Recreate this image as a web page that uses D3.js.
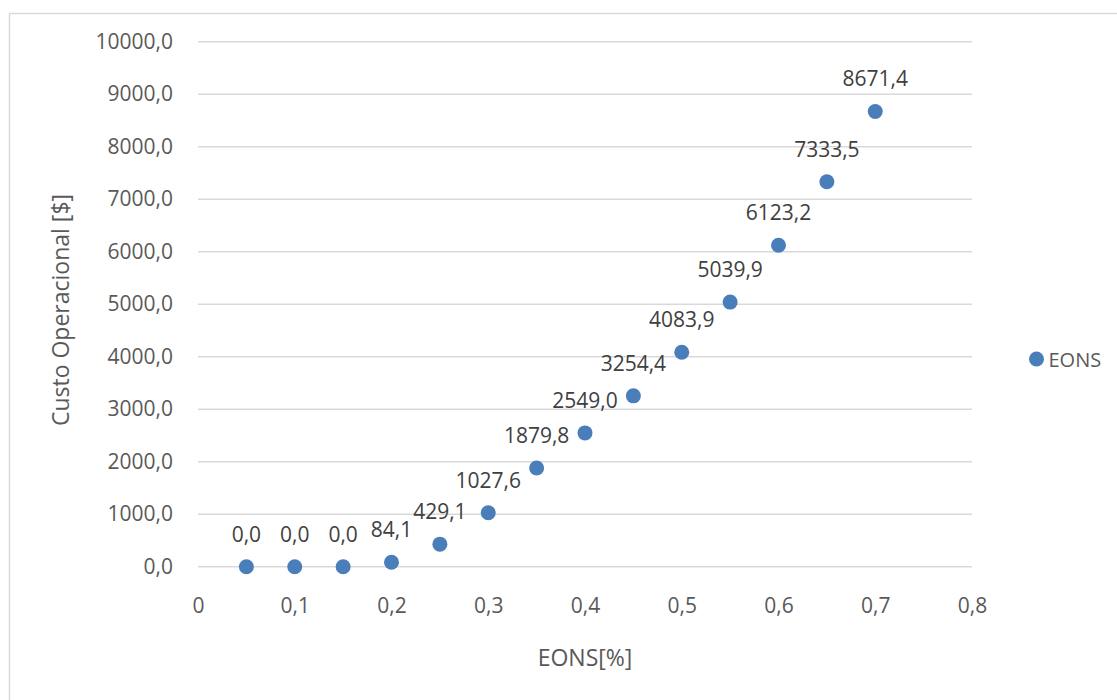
<!DOCTYPE html>
<html>
<head>
<meta charset="utf-8">
<script src="https://cdn.jsdelivr.net/npm/d3@7"></script>
<style>
    body { margin: 0; background: #fff; }
    text { font-family: "Open Sans", sans-serif; }
</style>
</head>
<body>
<div id="chart"></div>
<script>
    // chart data
    var eons = [0.05, 0.1, 0.15, 0.2, 0.25, 0.3, 0.35, 0.4, 0.45, 0.5, 0.55, 0.6, 0.65, 0.7];
    var custo = [0, 0, 0, 84.1, 429.1, 1027.6, 1879.8, 2549.0, 3254.4, 4083.9, 5039.9, 6123.2, 7333.5, 8671.4];
    var yTicks = [0, 1000, 2000, 3000, 4000, 5000, 6000, 7000, 8000, 9000, 10000];
    var xTicks = [0, 0.1, 0.2, 0.3, 0.4, 0.5, 0.6, 0.7, 0.8];
    var seriesName = "EONS";

    var W = 1117, H = 700,
        plotLeft = 198, plotRight = 972, plotTop = 41.7, plotBottom = 566.7,
        color = "#4a7ebb",
        fontSize = 21,
        titleSize = 23;

    var locale = d3.formatLocale({decimal: ",", thousands: "", grouping: [3], currency: ["$", ""]}),
        fmtVal = locale.format(".1f"),
        fmtX = locale.format(".1~f");

    var svg = d3.select("#chart").append("svg")
        .attr("width", W)
        .attr("height", H);

    // chart border
    svg.append("rect")
        .attr("x", 9.5).attr("y", 13.5)
        .attr("width", W + 20).attr("height", H + 20)
        .attr("fill", "none")
        .attr("stroke", "#d9d9d9")
        .attr("stroke-width", 1.5);

    var x = d3.scaleLinear().domain([0, 0.8]).range([plotLeft, plotRight]),
        y = d3.scaleLinear().domain([0, 10000]).range([plotBottom, plotTop]);

    // gridlines
    svg.append("g").selectAll("line")
        .data(yTicks)
        .enter().append("line")
        .attr("x1", plotLeft).attr("x2", plotRight)
        .attr("y1", function (d) { return y(d); })
        .attr("y2", function (d) { return y(d); })
        .attr("stroke", "#d9d9d9")
        .attr("stroke-width", 1.5);

    // y axis
    var yAxis = svg.append("g")
        .attr("transform", "translate(" + (plotLeft - 25) + ",0)")
        .call(d3.axisLeft(y).tickValues(yTicks).tickFormat(fmtVal).tickSize(0).tickPadding(0));
    yAxis.select(".domain").remove();
    yAxis.selectAll("text")
        .attr("fill", "#595959")
        .attr("font-size", fontSize)
        .attr("font-family", "Open Sans, sans-serif");

    // x axis
    var xAxis = svg.append("g")
        .attr("transform", "translate(0," + plotBottom + ")")
        .call(d3.axisBottom(x).tickValues(xTicks).tickFormat(fmtX).tickSize(0).tickPadding(31));
    xAxis.select(".domain").remove();
    xAxis.selectAll("text")
        .attr("fill", "#595959")
        .attr("font-size", fontSize)
        .attr("font-family", "Open Sans, sans-serif");

    // axis titles
    svg.append("text")
        .attr("transform", "translate(69,310) rotate(-90)")
        .attr("text-anchor", "middle")
        .attr("fill", "#595959")
        .attr("font-size", titleSize)
        .text("Custo Operacional [$]");
    svg.append("text")
        .attr("x", (plotLeft + plotRight) / 2)
        .attr("y", 666)
        .attr("text-anchor", "middle")
        .attr("fill", "#595959")
        .attr("font-size", titleSize)
        .text("EONS[%]");

    var pts = eons.map(function (d, i) { return {x: d, y: custo[i]}; });

    // points
    svg.append("g").selectAll("circle")
        .data(pts)
        .enter().append("circle")
        .attr("cx", function (d) { return x(d.x); })
        .attr("cy", function (d) { return y(d.y); })
        .attr("r", 7.5)
        .attr("fill", color);

    // data labels
    svg.append("g").selectAll("text")
        .data(pts)
        .enter().append("text")
        .attr("x", function (d) { return x(d.x); })
        .attr("y", function (d) { return y(d.y) - 25; })
        .attr("text-anchor", "middle")
        .attr("fill", "#404040")
        .attr("font-size", fontSize)
        .text(function (d) { return fmtVal(d.y); });

    // legend
    var legend = svg.append("g").attr("transform", "translate(1036.5,359)");
    legend.append("circle").attr("r", 7.5).attr("fill", color);
    legend.append("text")
        .attr("x", 12)
        .attr("y", 7.5)
        .attr("fill", "#595959")
        .attr("font-size", 20)
        .text(seriesName);
</script>
</body>
</html>
